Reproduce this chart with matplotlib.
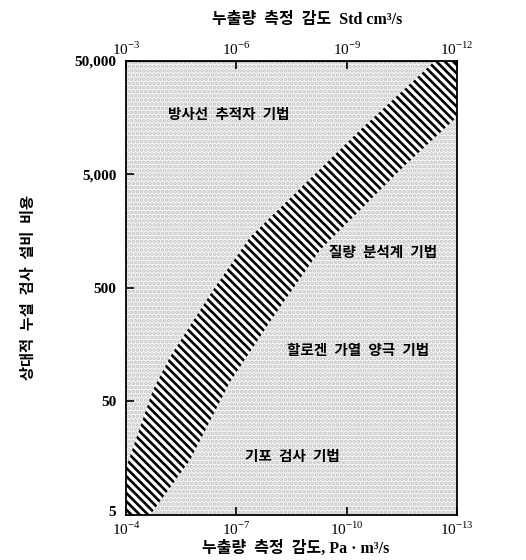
import numpy as np
import matplotlib
matplotlib.use('Agg')
import matplotlib.pyplot as plt
import matplotlib.transforms as mtransforms

# band edges (leak rate in Pa m3/s, relative cost)
upper_x = [1e-4, 1.85e-5, 6.4e-6, 4.3e-7, 4.2e-8, 4.3e-11, 4.0e-13]
upper_y = [13, 63, 123, 480, 1406, 12340, 50000]
lower_x = [2.2e-5, 1.8e-6, 1.5e-7, 1.0e-8, 5.3e-10, 2.9e-12, 1e-13]
lower_y = [5, 15.3, 74, 277, 1080, 5820, 16070]

y_ticks = [5, 50, 500, 5000, 50000]
y_labels = ['5', '50', '500', '5,000', '50,000']
bottom_ticks = [1e-4, 1e-7, 1e-10, 1e-13]
top_ticks = [1e-3, 1e-6, 1e-9, 1e-12]

regions = ['방사선  추적자  기법', '질량  분석계  기법', '할로겐  가열  양극  기법', '기포  검사  기법']
region_pos = [(1.6e-7, 16700), (1.0e-11, 1016), (4.9e-11, 137), (2.9e-9, 16.2)]

plt.rcParams['font.family'] = ['Liberation Serif', 'Noto Sans CJK KR']
plt.rcParams['mathtext.fontset'] = 'custom'
plt.rcParams['mathtext.rm'] = 'Liberation Serif'
plt.rcParams['hatch.linewidth'] = 1.9

fig = plt.figure(figsize=(5.26, 5.6), dpi=100)
ax = fig.add_axes([0.2395, 0.0804, 0.6293, 0.8107])
ax.set_xscale('log')
ax.set_yscale('log')
ax.set_xlim(1e-4, 1e-13)
ax.set_ylim(5, 50000)

# stippled background
ax.set_facecolor('#f7f7f7')
ax.fill_between([1e-3, 1e-14], 1, 1e6, facecolor='none', edgecolor='#c4c4c4',
                hatch='....', linewidth=0, zorder=0)

# hatched band between the two edges, closed through the lower-left corner
poly_x = upper_x + [1e-13] + lower_x[::-1] + [1e-4]
poly_y = upper_y + [50000] + lower_y[::-1] + [5]
ax.fill(poly_x, poly_y, facecolor='white', edgecolor='black', hatch='\\\\\\\\',
        linewidth=0, zorder=2)

for txt, (px, py) in zip(regions, region_pos):
    ax.text(px, py, txt, ha='center', va='center', fontsize=10.5,
            fontweight='bold', zorder=3)

ax.set_yticks(y_ticks)
ax.set_yticklabels(y_labels, fontsize=11, fontweight='bold')
ax.yaxis.set_minor_locator(matplotlib.ticker.NullLocator())
ax.set_xticks(bottom_ticks)
ax.set_xticklabels(['$10^{-4}$', '$10^{-7}$', '$10^{-10}$', '$10^{-13}$'], fontsize=11)
ax.xaxis.set_minor_locator(matplotlib.ticker.NullLocator())
ax.tick_params(direction='in', length=6, width=1.2)
ax.tick_params(axis='x', pad=4)
ax.tick_params(axis='y', pad=7)

# lift the lowest y label a little so it clears the 10^-4 label
lab = ax.get_yticklabels()[0]
lab.set_transform(lab.get_transform() + mtransforms.ScaledTranslation(0, 0.04, fig.dpi_scale_trans))

for s in ax.spines.values():
    s.set_linewidth(1.3)
    s.set_zorder(4)

sec = ax.secondary_xaxis('top', functions=(lambda x: x * 10, lambda x: x / 10))
sec.set_xticks(top_ticks)
sec.set_xticklabels(['$10^{-3}$', '$10^{-6}$', '$10^{-9}$', '$10^{-12}$'], fontsize=11)
sec.xaxis.set_minor_locator(matplotlib.ticker.NullLocator())
sec.tick_params(direction='in', length=6, width=1.2, pad=2)

ax.set_xlabel('누출량  측정  감도, Pa · m³/s', fontsize=11.5, fontweight='bold')
ax.xaxis.set_label_coords(0.514, -0.056)
sec.set_xlabel('누출량  측정  감도  Std cm³/s', fontsize=11.5, fontweight='bold')
sec.xaxis.set_label_coords(0.547, 1.081, transform=ax.transAxes)
ax.set_ylabel('상대적  누설  검사  설비  비용', fontsize=11, fontweight='bold', labelpad=28)

fig.savefig('out.png', dpi=100)
